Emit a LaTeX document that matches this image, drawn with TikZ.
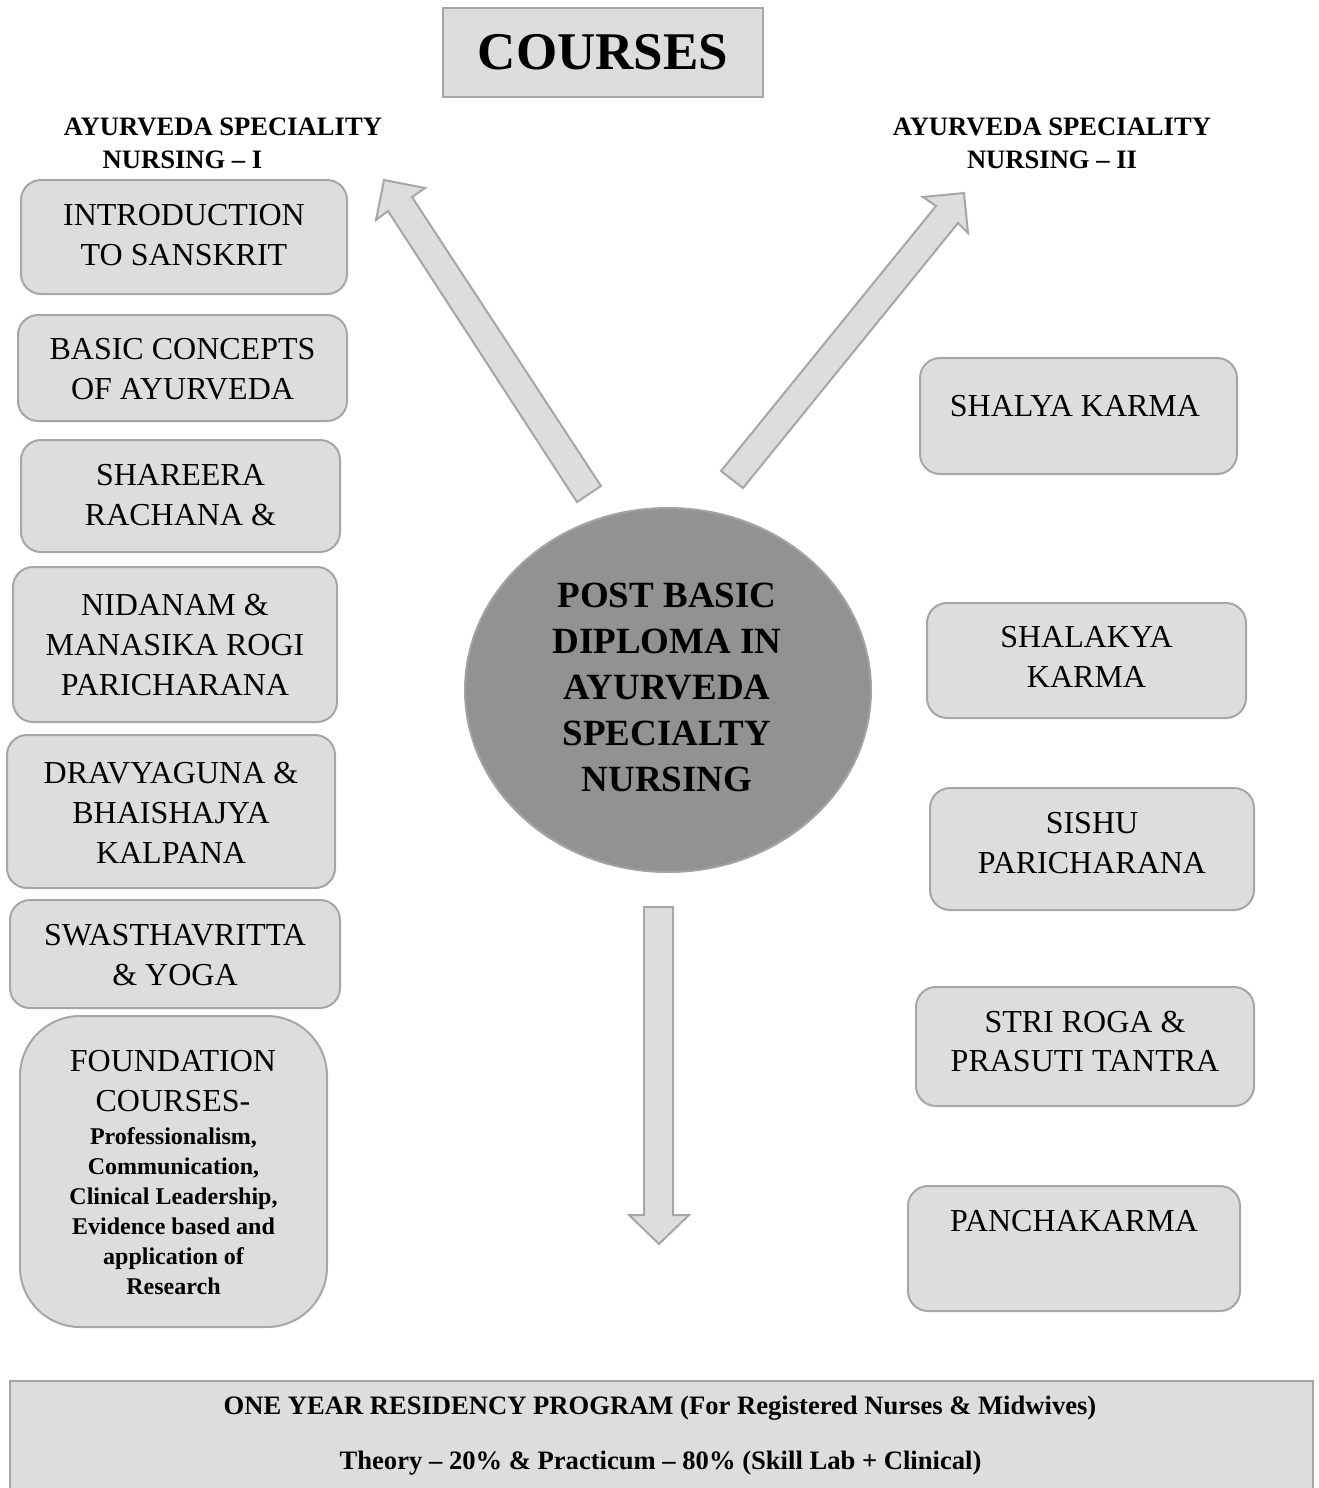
\documentclass[tikz,border=0pt]{standalone}
\usepackage{fontspec}
\setmainfont{Liberation Serif}
\usetikzlibrary{shapes.geometric}
\definecolor{boxfill}{HTML}{DDDDDD}
\definecolor{boxline}{HTML}{A6A6A6}
\definecolor{circfill}{HTML}{929292}
\definecolor{circline}{HTML}{A3A3A3}
\begin{document}
\begin{tikzpicture}[x=0.5pt,y=-0.5pt,
  cbox/.style={draw=boxline, fill=boxfill, line width=1pt, rounded corners=10pt, inner sep=0pt},
  sbox/.style={draw=boxline, fill=boxfill, line width=1pt, inner sep=0pt},
  btxt/.style={align=center, font=\fontsize{16}{20}\selectfont, inner sep=0pt},
  stxt/.style={align=center, font=\fontsize{12}{15}\selectfont\bfseries, inner sep=0pt},
  hdr/.style={align=center, font=\fontsize{13.3}{16.5}\selectfont\bfseries, inner sep=0pt},
  blockarrow/.style={draw=boxline, fill=boxfill, line width=1pt, line join=miter}]
\useasboundingbox (0,0) rectangle (1318,1488);
\clip (0,0) rectangle (1318,1488);

% title
\node[sbox, minimum width=160pt, minimum height=44.5pt] (title) at (603,52.5) {};
\node[font=\fontsize{26.5}{30}\selectfont\bfseries, inner sep=0pt] (titletxt) at (603,52) {COURSES};

% headers
\node[hdr] (hdrLa) at (223,127) {AYURVEDA SPECIALITY};
\node[hdr] (hdrLb) at (182.5,160) {NURSING – I};
\node[hdr] (hdrR) at (1052,143.5) {AYURVEDA SPECIALITY\\NURSING – II};

% block arrows
\coordinate (aL1) at (384,180);
\draw[blockarrow] (aL1) -- (425,188) -- (412,197) -- (601,486) -- (577,502) -- (388,211) -- (376,220) -- cycle;
\coordinate (aR1) at (964,193);
\draw[blockarrow] (aR1) -- (968,233) -- (958,223) -- (743,488) -- (721,471) -- (936,206) -- (923,197) -- cycle;
\coordinate (aD1) at (659,1244);
\draw[blockarrow] (644,907) -- (673,907) -- (673,1215) -- (689,1215) -- (aD1) -- (629,1215) -- (644,1215) -- cycle;

% left boxes
\node[cbox, minimum width=163pt, minimum height=57pt] (b1) at (184,237) {};
\node[btxt] (t1) at (184,235) {INTRODUCTION\\TO SANSKRIT};
\node[cbox, minimum width=164.5pt, minimum height=53pt] (b2) at (182.5,368) {};
\node[btxt] (t2) at (182.5,369.5) {BASIC CONCEPTS\\OF AYURVEDA};
\node[cbox, minimum width=159.5pt, minimum height=56pt] (b3) at (180.5,496) {};
\node[btxt] (t3) at (180.5,495) {SHAREERA\\RACHANA \&};
\node[cbox, minimum width=162pt, minimum height=77.5pt] (b4) at (175,644.5) {};
\node[btxt] (t4) at (175,645) {NIDANAM \&\\MANASIKA ROGI\\PARICHARANA};
\node[cbox, minimum width=164pt, minimum height=76.5pt] (b5) at (171,811.5) {};
\node[btxt] (t5) at (171,812.5) {DRAVYAGUNA \&\\BHAISHAJYA\\KALPANA};
\node[cbox, minimum width=165pt, minimum height=54pt] (b6) at (175,954) {};
\node[btxt] (t6) at (175,955.5) {SWASTHAVRITTA\\\& YOGA};
\node[cbox, rounded corners=30pt, minimum width=153.5pt, minimum height=155.5pt] (b7) at (173.5,1171.5) {};
\node[btxt] (t7a) at (173,1081) {FOUNDATION\\COURSES-};
\node[stxt] (t7b) at (173.5,1211.5) {Professionalism,\\Communication,\\Clinical Leadership,\\Evidence based and\\application of\\Research};

% right boxes
\node[cbox, minimum width=158.5pt, minimum height=58pt] (r1) at (1078.5,416) {};
\node[btxt] (s1) at (1075,406) {SHALYA KARMA};
\node[cbox, minimum width=159.5pt, minimum height=57.5pt] (r2) at (1086.5,660.5) {};
\node[btxt] (s2) at (1086.5,657) {SHALAKYA\\KARMA};
\node[cbox, minimum width=162pt, minimum height=61pt] (r3) at (1092,849) {};
\node[btxt] (s3) at (1092,843.5) {SISHU\\PARICHARANA};
\node[cbox, minimum width=169pt, minimum height=59.5pt] (r4) at (1085,1046.5) {};
\node[btxt] (s4) at (1085,1041.5) {STRI ROGA \&\\PRASUTI TANTRA};
\node[cbox, minimum width=166pt, minimum height=62.5pt] (r5) at (1074,1248.5) {};
\node[btxt] (s5) at (1074,1221) {PANCHAKARMA};

% centre circle
\node[ellipse, draw=circline, fill=circfill, line width=1pt, minimum width=203pt, minimum height=182pt, inner sep=0pt] (centre) at (668,690) {};
\node[align=center, font=\fontsize{18.5}{23}\selectfont\bfseries, inner sep=0pt] (centretxt) at (667,687) {POST BASIC\\DIPLOMA IN\\AYURVEDA\\SPECIALTY\\NURSING};

% bottom box
\node[sbox, minimum width=651.5pt, minimum height=60pt] (bottom) at (661.5,1441) {};
\node[hdr] (bt1) at (660,1408) {ONE YEAR RESIDENCY PROGRAM (For Registered Nurses \& Midwives)};
\node[hdr] (bt2) at (660.5,1463) {Theory – 20\% \& Practicum – 80\% (Skill Lab + Clinical)};
\end{tikzpicture}
\end{document}
